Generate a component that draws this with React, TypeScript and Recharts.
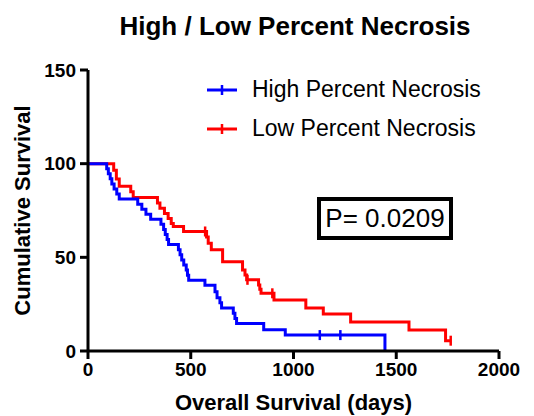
import React from "react";
import {
  ComposedChart,
  Line,
  Scatter,
  XAxis,
  YAxis,
} from "recharts";

// Kaplan-Meier steps (days, % surviving after the event)
const highTimes = [0, 91, 99, 108, 116, 127, 140, 152, 242, 262, 282, 305, 355, 368, 376, 385, 392, 440, 448, 456, 466, 478, 484, 490, 569, 618, 628, 642, 650, 707, 715, 723, 855, 960, 1445];
const highSurv = [100, 97.3, 94.6, 91.9, 89.2, 86.5, 83.8, 81.1, 78.4, 75.7, 73.0, 70.3, 67.6, 64.9, 62.2, 59.5, 56.8, 54.1, 51.4, 48.6, 45.9, 43.2, 40.5, 37.8, 35.1, 31.6, 28.4, 25.7, 22.9, 20.2, 17.4, 14.7, 11.3, 8.5, 0];
const highCensorTimes = [1128, 1228];
const highCensorSurv = [8.5, 8.5];

const lowTimes = [0, 125, 138, 152, 208, 220, 338, 350, 372, 390, 405, 415, 465, 577, 585, 600, 655, 752, 764, 772, 830, 836, 842, 905, 1060, 1145, 1278, 1562, 1740, 1765];
const lowSurv = [100, 96.5, 91.8, 88.0, 85.0, 82.0, 79.0, 76.2, 73.4, 70.7, 68.0, 66.5, 63.8, 60.8, 57.5, 54.0, 47.7, 43.2, 40.6, 38.0, 35.2, 33.0, 30.8, 27.2, 23.0, 19.8, 15.5, 11.2, 5.5, 5.5];
const lowCensorTimes = [570, 776, 897, 1765];
const lowCensorSurv = [63.8, 38.0, 30.8, 5.5];

const xTicks = [0, 500, 1000, 1500, 2000];
const yTicks = [0, 50, 100, 150];

const seriesNames = ["High Percent Necrosis", "Low Percent Necrosis"];
const seriesColors = ["#0000FF", "#FF0000"];

const FONT = "Arial, 'Liberation Sans', sans-serif";

const toPoints = (ts: number[], ss: number[]) =>
  ts.map((t, i) => ({ t, s: ss[i] }));

// small vertical tick for censored cases
const CensorTick = (props: any) => {
  const { cx, cy, fill } = props;
  return (
    <line x1={cx} x2={cx} y1={cy - 5} y2={cy + 5} stroke={fill} strokeWidth={2.5} />
  );
};

export default function App() {
  const highData = toPoints(highTimes, highSurv);
  const lowData = toPoints(lowTimes, lowSurv);
  const highCensor = toPoints(highCensorTimes, highCensorSurv);
  const lowCensor = toPoints(lowCensorTimes, lowCensorSurv);

  return (
    <div
      style={{
        position: "absolute",
        left: 0,
        top: 0,
        width: 534,
        height: 416,
        background: "#fff",
        fontFamily: FONT,
      }}
    >
      <div
        style={{
          position: "absolute",
          left: 0,
          width: 590,
          top: 13,
          textAlign: "center",
          fontSize: 26,
          lineHeight: "26px",
          fontWeight: "bold",
          whiteSpace: "nowrap",
        }}
      >
        High / Low Percent Necrosis
      </div>

      <ComposedChart
        width={534}
        height={416}
        margin={{ top: 70, right: 35, left: 22, bottom: 5 }}
      >
        <XAxis
          dataKey="t"
          type="number"
          domain={[0, 2000]}
          ticks={xTicks}
          allowDataOverflow
          height={60}
          stroke="#000"
          axisLine={{ stroke: "#000", strokeWidth: 3 }}
          tickLine={{ stroke: "#000", strokeWidth: 3 }}
          tickSize={8}
          tickMargin={4}
          tick={{ fill: "#000", fontSize: 19, fontWeight: "bold", fontFamily: FONT }}
          label={{
            value: "Overall Survival (days)",
            position: "insideBottom",
            offset: 1,
            style: { fontSize: 22, fontWeight: "bold", fill: "#000", fontFamily: FONT },
          }}
        />
        <YAxis
          type="number"
          domain={[0, 150]}
          ticks={yTicks}
          width={66}
          stroke="#000"
          axisLine={{ stroke: "#000", strokeWidth: 3 }}
          tickLine={{ stroke: "#000", strokeWidth: 3 }}
          tickSize={8}
          tickMargin={4}
          tick={{ fill: "#000", fontSize: 19, fontWeight: "bold", fontFamily: FONT }}
          label={{
            value: "Cumulative Survival",
            angle: -90,
            position: "insideLeft",
            offset: 0,
            style: { textAnchor: "middle", fontSize: 22, fontWeight: "bold", fill: "#000", fontFamily: FONT },
          }}
        />
        <Line
          data={lowData}
          dataKey="s"
          type="stepAfter"
          stroke={seriesColors[1]}
          strokeWidth={3}
          dot={false}
          isAnimationActive={false}
        />
        <Line
          data={highData}
          dataKey="s"
          type="stepAfter"
          stroke={seriesColors[0]}
          strokeWidth={3}
          dot={false}
          isAnimationActive={false}
        />
        <Scatter data={lowCensor} dataKey="s" fill={seriesColors[1]} shape={<CensorTick />} isAnimationActive={false} />
        <Scatter data={highCensor} dataKey="s" fill={seriesColors[0]} shape={<CensorTick />} isAnimationActive={false} />
      </ComposedChart>

      {/* legend */}
      {seriesNames.map((name, i) => (
        <div key={name}>
          <svg
            style={{ position: "absolute", left: 205, top: 82 + i * 39 }}
            width={34}
            height={16}
          >
            <line x1={2} x2={32} y1={8} y2={8} stroke={seriesColors[i]} strokeWidth={3} />
            <line x1={17} x2={17} y1={3} y2={13} stroke={seriesColors[i]} strokeWidth={2.5} />
          </svg>
          <div
            style={{
              position: "absolute",
              left: 252,
              top: 78 + i * 39,
              fontSize: 23,
              lineHeight: "23px",
              whiteSpace: "nowrap",
            }}
          >
            {name}
          </div>
        </div>
      ))}

      {/* p-value box */}
      <div
        style={{
          position: "absolute",
          left: 317,
          top: 197,
          width: 136,
          height: 43,
          boxSizing: "border-box",
          border: "4px solid #000",
          fontSize: 26,
          lineHeight: "35px",
          textAlign: "center",
          whiteSpace: "nowrap",
        }}
      >
        P= 0.0209
      </div>
    </div>
  );
}
